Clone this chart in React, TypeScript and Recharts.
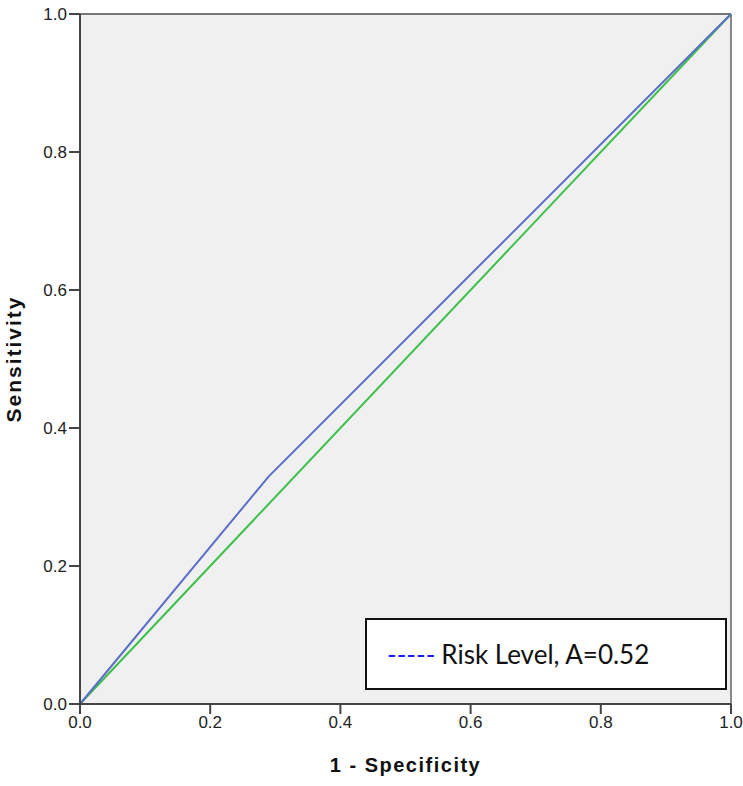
import { LineChart, Line, XAxis, YAxis, CartesianGrid, ReferenceLine } from 'recharts';

// ROC curve points (1 - specificity, sensitivity)
const rocFpr = [0, 0.29, 1];
const rocTpr = [0, 0.33, 1];
// diagonal reference
const refFpr = [0, 1];
const refTpr = [0, 1];
const ticks = [0, 0.2, 0.4, 0.6, 0.8, 1.0];
const legendLabel = 'Risk Level, A=0.52';

const rocData = rocFpr.map((x, i) => ({ x, y: rocTpr[i] }));
const refData = refFpr.map((x, i) => ({ x, y: refTpr[i] }));

const axisFont = 'Arial, "Liberation Sans", sans-serif';

const LegendBox = () => (
    <div
        style={{
            position: 'absolute',
            left: 365,
            top: 618,
            width: 338,
            height: 68,
            border: '2px solid #111',
            background: '#fff',
            display: 'flex',
            alignItems: 'center',
            paddingLeft: 20,
            boxSizing: 'content-box',
            fontFamily: 'Lato, "Open Sans", sans-serif',
            fontSize: 26,
            color: '#111',
            lineHeight: 1,
        }}
    >
        <span style={{ color: '#1a1aff', marginRight: 6 }}>-----</span>
        <span>{legendLabel}</span>
    </div>
);

const App = () => {
    const tickStyle = { fill: '#222', fontSize: 17, fontFamily: axisFont };
    return (
        <div style={{ position: 'absolute', left: 0, top: 0, width: 743, height: 786, background: '#fff' }}>
            <LineChart width={743} height={786} margin={{ top: 14, right: 12, left: 0, bottom: 0 }}>
                <CartesianGrid horizontal={false} vertical={false} fill="#f0f0f0" />
                <XAxis
                    type="number"
                    dataKey="x"
                    domain={[0, 1]}
                    ticks={ticks}
                    tickFormatter={(v: number) => v.toFixed(1)}
                    height={82}
                    tickSize={10}
                    tick={tickStyle}
                    stroke="#444"
                    strokeWidth={2}
                    label={{ value: '1 - Specificity', position: 'insideTop', offset: 54, style: { fontWeight: 'bold', fontSize: 20, letterSpacing: 1.5, fill: '#111', fontFamily: axisFont } }}
                />
                <YAxis
                    type="number"
                    dataKey="y"
                    domain={[0, 1]}
                    ticks={ticks}
                    tickFormatter={(v: number) => v.toFixed(1)}
                    width={80}
                    tickSize={11}
                    tick={tickStyle}
                    stroke="#444"
                    strokeWidth={2}
                    label={{ value: 'Sensitivity', angle: -90, position: 'insideLeft', offset: 14, style: { textAnchor: 'middle', fontWeight: 'bold', fontSize: 21, letterSpacing: 2, fill: '#111', fontFamily: axisFont } }}
                />
                <ReferenceLine y={1} stroke="#777" strokeWidth={2} />
                <ReferenceLine x={1} stroke="#888" strokeWidth={2} />
                <Line data={refData} dataKey="y" stroke="#3cc04a" strokeWidth={2} dot={false} isAnimationActive={false} />
                <Line data={rocData} dataKey="y" stroke="#5b6fc8" strokeWidth={2} dot={false} isAnimationActive={false} />
            </LineChart>
            <LegendBox />
        </div>
    );
};

export default App;
